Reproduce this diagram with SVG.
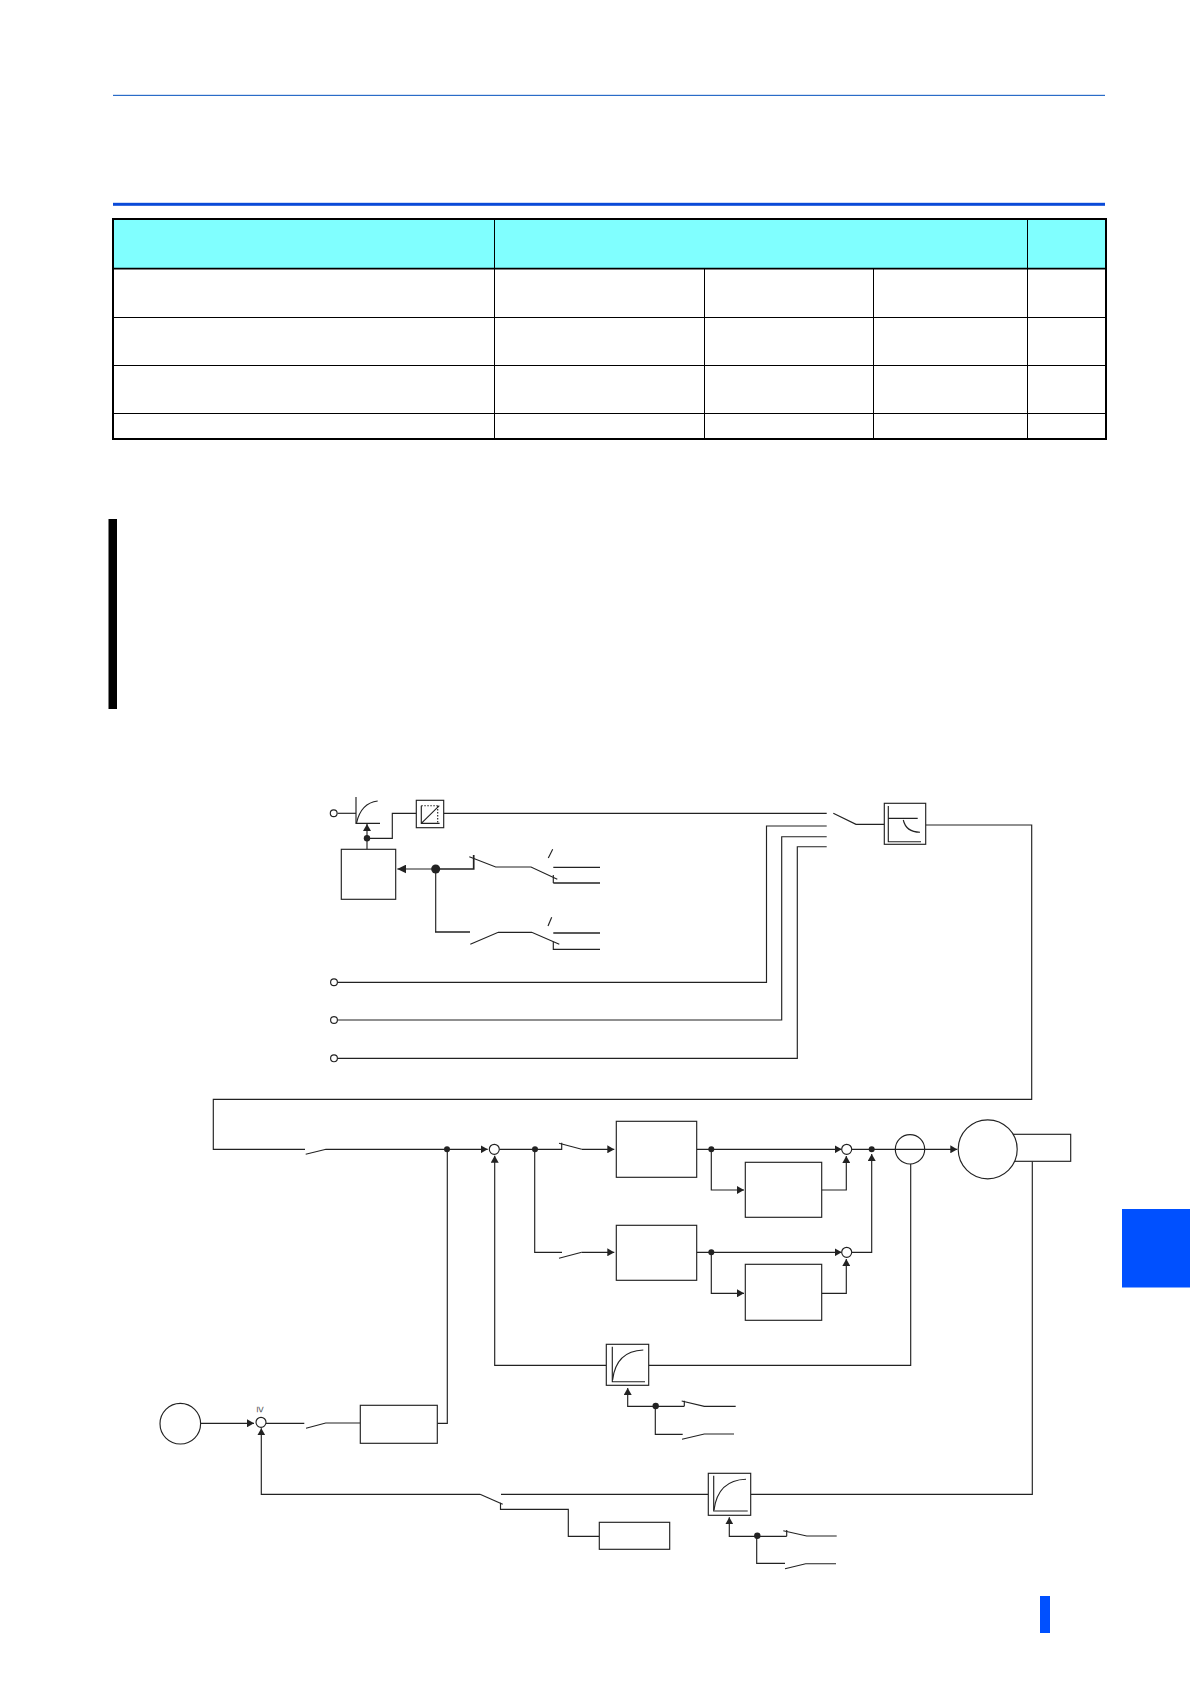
<svg xmlns="http://www.w3.org/2000/svg" width="1190" height="1684" viewBox="0 0 1190 1684">
<style>
.w{fill:none;stroke:#222;stroke-width:1.15}
.t{fill:none;stroke:#222;stroke-width:1.7}
.a{fill:none;stroke:#222;stroke-width:1.15;marker-end:url(#ah)}
.b{fill:#fff;stroke:#222;stroke-width:1.15}
.d{fill:#222;stroke:none}
.tb{stroke:#000;stroke-width:1;fill:none}
.tm{stroke:#000;stroke-width:1.2;fill:none}
.blue{fill:#0050ff;stroke:none}
</style>
<defs>
<marker id="ah" viewBox="0 0 7 8" refX="7" refY="4" markerUnits="userSpaceOnUse" markerWidth="7" markerHeight="8" orient="auto"><path d="M0 0L7 4L0 8Z" fill="#222"/></marker>
<marker id="ahb" viewBox="0 0 9 9" refX="9" refY="4.5" markerUnits="userSpaceOnUse" markerWidth="9" markerHeight="9" orient="auto"><path d="M0 0L9 4.5L0 9Z" fill="#222"/></marker>
</defs>
<rect width="1190" height="1684" fill="#fff"/>
<g id="page">
<rect x="113" y="94.8" width="992" height="1.2" fill="#2a6cc8"/>
<rect x="113" y="202.8" width="992" height="3" fill="#0a4ad8"/>
<rect x="108.5" y="519" width="8.5" height="190" fill="#000"/>
<rect class="blue" x="1122" y="1209" width="68" height="78.5"/>
<rect class="blue" x="1040" y="1596" width="10" height="37"/>
</g>
<g id="table">
<rect x="113.5" y="219" width="992.5" height="50" fill="#80ffff"/>
<path class="tm" d="M113 317.5H1106M113 365.5H1106M113 413.5H1106"/>
<path class="tb" d="M494.5 219V439M704.5 269V439M873.5 269V439M1027.5 219V439"/>
<path d="M113 268.7H1106" stroke="#000" stroke-width="1.8" fill="none"/>
<rect x="113" y="219" width="993" height="220" fill="none" stroke="#000" stroke-width="2"/>
</g>
<g id="connectors">
<path class="w" d="M337.5 813.3H356"/>
<path class="w" d="M367 849.3V838.3"/>
<path class="a" d="M367 838.3V824"/>
<path class="w" d="M367 838.3H392.3V813.3H416.3"/>
<path class="w" d="M443.7 813.3H826.7"/>
<path class="w" d="M337.5 982.3H766.5V826H826.7"/>
<path class="w" d="M337.5 1020H781.7V836.7H826.7"/>
<path class="w" d="M337.5 1058.3H797.3V846.7H826.7"/>
<path class="w" d="M833.3 813.3L856 824.3H884.3"/>
<path class="w" d="M925.7 825H1031.7V1099.3H213.3V1149.3H305"/>
<path d="M435.7 869H397.3" fill="none" stroke="#222" stroke-width="1.2" marker-end="url(#ahb)"/>
<path class="t" d="M435.7 869H473.7V855"/>
<path class="w" d="M469.3 856.7L495.7 867H531L557.3 879.3"/>
<path class="w" d="M552.7 849.3L548.3 858"/>
<path class="w" d="M553.3 867.3H600"/>
<path class="t" d="M553.3 883H600"/>
<path class="w" d="M553.3 875V883"/>
<path class="w" d="M435.7 869V932"/>
<path class="t" d="M435 932H470"/>
<path class="w" d="M470.3 944.3L498.3 932.3H531.7L559.3 944.3"/>
<path class="w" d="M551.7 917.3L548 926"/>
<path class="t" d="M553.3 933H600"/>
<path class="w" d="M553.3 941.7V949.3H600"/>
<path class="w" d="M305.7 1154.3L326 1149.3H447"/>
<path class="a" d="M447 1149.3H487.7"/>
<path class="w" d="M499.3 1149.3H561.7V1142.7"/>
<path class="w" d="M559 1143.3L581.7 1149.3"/>
<path class="a" d="M581.7 1149.3H614.3"/>
<path class="w" d="M534.7 1149.3V1252.3H562"/>
<path class="w" d="M559 1258.3L581.7 1252.3"/>
<path class="a" d="M581.7 1252.3H614.3"/>
<path class="a" d="M606.3 1365.3H494.7V1155.7"/>
<path class="w" d="M648.7 1365.3H910.7V1164"/>
<path class="a" d="M696.7 1149.3H841.7"/>
<path class="a" d="M711.3 1149.3V1190H744"/>
<path class="a" d="M821.7 1190H846.3V1156"/>
<path class="a" d="M851.7 1149.3H957.3"/>
<path class="a" d="M696.7 1252.3H841.7"/>
<path class="a" d="M711.3 1252.3V1293.3H744"/>
<path class="a" d="M821.7 1293.3H846.3V1259"/>
<path class="a" d="M851.7 1252.3H871.7V1154"/>
<path class="w" d="M1032.3 1161.3V1494.3H750.7"/>
<path class="a" d="M201 1423.3H254"/>
<path class="w" d="M266 1423.3H304.3"/>
<path class="w" d="M306 1428.3L325.7 1423H360.3"/>
<path class="w" d="M437.3 1423.3H447.3V1149.3"/>
<path class="a" d="M480 1494.3H261.3V1428.3"/>
<path class="w" d="M480 1494.3L502.7 1504.3"/>
<path class="w" d="M501 1494.3H708.3"/>
<path class="w" d="M500.5 1502.7V1509.3H568.3V1536.3H599.3"/>
<path class="a" d="M684.3 1406.3H627.7V1388"/>
<path class="w" d="M684.3 1406.3V1400.7"/>
<path class="w" d="M681.7 1401L704.3 1406.3H735.7"/>
<path class="w" d="M655.3 1406.3V1434.3H682.7"/>
<path class="w" d="M682 1439.3L704.3 1434H734"/>
<path class="a" d="M786.7 1536.3H729.3V1517.3"/>
<path class="w" d="M786.7 1536.3V1530"/>
<path class="w" d="M783.3 1530.7L806.7 1536H836.7"/>
<path class="w" d="M756.7 1536.3V1563.3H785"/>
<path class="w" d="M785 1568.7L805.7 1563.7H836"/>
</g>
<g id="terminal-top"><circle class="b" cx="333.7" cy="813.3" r="3.4"/></g>
<g id="terminal-1"><circle class="b" cx="334" cy="982.3" r="3.4"/></g>
<g id="terminal-2"><circle class="b" cx="334" cy="1020" r="3.4"/></g>
<g id="terminal-3"><circle class="b" cx="334" cy="1058.3" r="3.4"/></g>
<g id="curve-accel"><path class="w" d="M356 797V823.3H380"/><path class="w" d="M356.5 823Q361 803 377.7 801"/></g>
<g id="conv-box"><rect class="b" x="416.3" y="800.3" width="27.4" height="27.4"/><path class="w" d="M421.3 805.7V823.3H439.6M421.3 823.3L439.3 805.7"/><path class="w" stroke-dasharray="1.5 1.5" d="M421.3 805.7H439M437.7 806V823"/></g>
<g id="ctrl-box"><rect class="b" x="341.3" y="849.3" width="54.4" height="50"/></g>
<g id="filter-top"><rect class="b" x="884.3" y="803.3" width="41.4" height="41"/><path class="w" d="M888.3 806V841.7H921M888.3 818.3H917.7"/><path class="w" d="M903.3 820Q906 832 920 832.3"/></g>
<g id="box-a"><rect class="b" x="616.3" y="1121.3" width="80.4" height="56"/></g>
<g id="box-b"><rect class="b" x="616.3" y="1225.3" width="80.4" height="55"/></g>
<g id="box-c"><rect class="b" x="745.3" y="1162.3" width="76.4" height="55"/></g>
<g id="box-d"><rect class="b" x="745.3" y="1264.3" width="76.4" height="56"/></g>
<g id="sum-1"><circle class="b" cx="494.3" cy="1149.3" r="5"/></g>
<g id="sum-2"><circle class="b" cx="846.7" cy="1149.3" r="5"/></g>
<g id="sum-3"><circle class="b" cx="846.7" cy="1252.3" r="5"/></g>
<g id="sensor"><circle class="w" cx="910" cy="1149.3" r="14.7"/></g>
<g id="encoder"><rect class="b" x="1000" y="1134.3" width="70.7" height="27"/></g>
<g id="motor"><circle class="b" cx="987.7" cy="1149.3" r="29.5"/></g>
<g id="filter-mid"><rect class="b" x="606.3" y="1344.3" width="42.4" height="41"/><path class="w" d="M612.3 1346.7V1381.7H645"/><path class="w" d="M612.6 1380Q616 1351 643.3 1350"/></g>
<g id="filter-low"><rect class="b" x="708.3" y="1473.3" width="42.4" height="42"/><path class="w" d="M713.7 1475.7V1511H747.7"/><path class="w" d="M714 1510Q718 1480 746 1479.3"/></g>
<g id="source"><circle class="b" cx="180.3" cy="1423.7" r="20.3"/></g>
<g id="sum-4"><circle class="b" cx="261" cy="1422.3" r="5"/><text x="260.5" y="1409.3" transform="rotate(90 260.5 1409.3)" text-anchor="middle" dominant-baseline="central" font-family="'Liberation Sans',sans-serif" font-size="11" fill="#555">≥</text></g>
<g id="box-e"><rect class="b" x="360.3" y="1405.3" width="77" height="38"/></g>
<g id="box-f"><rect class="b" x="599.3" y="1522.3" width="70.4" height="27"/></g>
<g id="junctions">
<circle class="d" cx="367" cy="838.3" r="3.2"/>
<circle class="d" cx="435.7" cy="869" r="4.5"/>
<circle class="d" cx="447" cy="1149.3" r="3"/>
<circle class="d" cx="535" cy="1149.3" r="3"/>
<circle class="d" cx="711.3" cy="1149.3" r="3"/>
<circle class="d" cx="871.7" cy="1149.3" r="3"/>
<circle class="d" cx="711.3" cy="1252.3" r="3"/>
<circle class="d" cx="655.7" cy="1406" r="3.2"/>
<circle class="d" cx="757.3" cy="1535.7" r="3.2"/>
</g>
</svg>
